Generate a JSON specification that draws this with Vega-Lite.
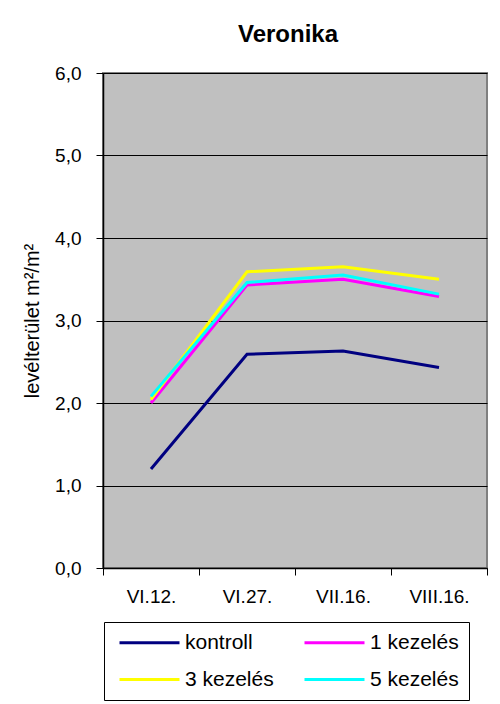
{
  "$schema": "https://vega.github.io/schema/vega-lite/v6.json",
  "autosize": {"type": "none"},
  "padding": {"left": 103, "top": 73, "right": 13, "bottom": 136},
  "width": 384,
  "height": 495,
  "background": "white",
  "title": {
    "text": "Veronika",
    "font": "Liberation Sans",
    "fontSize": 24,
    "fontWeight": "bold",
    "color": "black",
    "anchor": "middle",
    "frame": "group",
    "dx": -7,
    "baseline": "alphabetic",
    "offset": -2
  },
  "data": {
    "values": [
      {"date": "VI.12.", "series": "kontroll", "value": 1.2},
      {"date": "VI.27.", "series": "kontroll", "value": 2.59},
      {"date": "VII.16.", "series": "kontroll", "value": 2.63},
      {"date": "VIII.16.", "series": "kontroll", "value": 2.43},
      {"date": "VI.12.", "series": "1 kezelés", "value": 2.0},
      {"date": "VI.27.", "series": "1 kezelés", "value": 3.43},
      {"date": "VII.16.", "series": "1 kezelés", "value": 3.5},
      {"date": "VIII.16.", "series": "1 kezelés", "value": 3.29},
      {"date": "VI.12.", "series": "3 kezelés", "value": 2.04},
      {"date": "VI.27.", "series": "3 kezelés", "value": 3.59},
      {"date": "VII.16.", "series": "3 kezelés", "value": 3.65},
      {"date": "VIII.16.", "series": "3 kezelés", "value": 3.5},
      {"date": "VI.12.", "series": "5 kezelés", "value": 2.08},
      {"date": "VI.27.", "series": "5 kezelés", "value": 3.46},
      {"date": "VII.16.", "series": "5 kezelés", "value": 3.55},
      {"date": "VIII.16.", "series": "5 kezelés", "value": 3.32}
    ]
  },
  "mark": {"type": "line", "strokeWidth": 3},
  "encoding": {
    "x": {
      "field": "date",
      "type": "ordinal",
      "sort": ["VI.12.", "VI.27.", "VII.16.", "VIII.16."],
      "scale": {"type": "band", "paddingInner": 0, "paddingOuter": 0},
      "axis": {
        "title": null,
        "labelAngle": 0,
        "labelFontSize": 19,
        "labelColor": "black",
        "labelPadding": 12,
        "tickBand": "extent",
        "tickSize": 7,
        "tickColor": "black",
        "domainColor": "black",
        "domainWidth": 1.5,
        "grid": false
      }
    },
    "y": {
      "field": "value",
      "type": "quantitative",
      "scale": {"domain": [0, 6], "nice": false, "zero": true},
      "axis": {
        "title": "levélterület m²/m²",
        "titleFontSize": 20,
        "titleFontWeight": "normal",
        "titleColor": "black",
        "titlePadding": 12,
        "values": [0, 1, 2, 3, 4, 5, 6],
        "labelExpr": "replace(format(datum.value, '.1f'), '.', ',')",
        "labelFontSize": 19,
        "labelColor": "black",
        "labelPadding": 15,
        "tickSize": 7,
        "tickColor": "black",
        "domainColor": "black",
        "domainWidth": 1.5,
        "grid": true,
        "gridColor": "black",
        "gridWidth": 1,
        "gridOpacity": 1
      }
    },
    "color": {
      "field": "series",
      "type": "nominal",
      "scale": {
        "domain": ["kontroll", "1 kezelés", "3 kezelés", "5 kezelés"],
        "range": ["#000080", "#FF00FF", "#FFFF00", "#00FFFF"]
      },
      "legend": {
        "title": null,
        "orient": "none",
        "legendX": 1,
        "legendY": 549,
        "direction": "horizontal",
        "columns": 2,
        "symbolType": "M-1,0H11",
        "symbolSize": 100,
        "symbolStrokeWidth": 3,
        "labelFontSize": 21,
        "labelColor": "black",
        "labelOffset": 50,
        "columnPadding": 24,
        "rowPadding": 15,
        "padding": 10,
        "strokeColor": "black"
      }
    }
  },
  "config": {
    "font": "Liberation Sans",
    "view": {"fill": "#C0C0C0", "stroke": "#808080", "strokeWidth": 2},
    "legend": {"strokeWidth": 1}
  }
}
